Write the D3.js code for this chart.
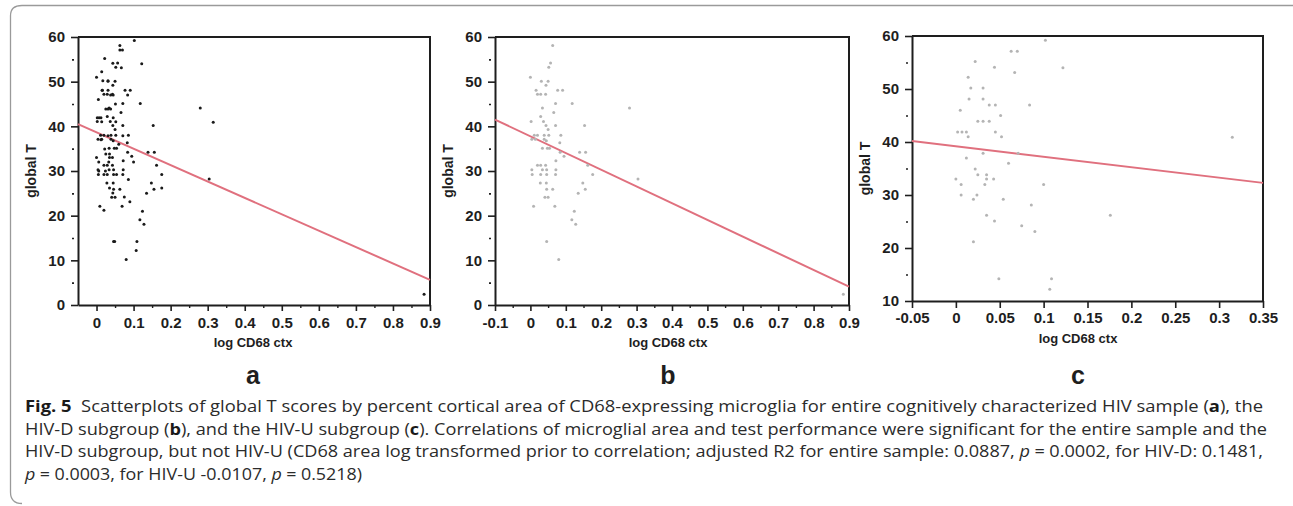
<!DOCTYPE html>
<html>
<head>
<meta charset="utf-8">
<script src="https://cdnjs.cloudflare.com/ajax/libs/d3/7.8.5/d3.min.js"></script>
<style>
  body { margin: 0; background: #fff; }
</style>
</head>
<body>
<div id="fig"></div>
<script>
var svgWidth = 1293;
var svgHeight = 506;

// HIV-D subgroup: [log CD68 ctx, global T]
var hivD = [
  [0.063,58.1],[0.057,54.2],[0.052,53.2],[0.000,51.0],[0.031,50.1],[0.050,50.1],
  [0.044,49.2],[0.016,48.1],[0.077,48.1],[0.091,48.1],[0.020,47.2],[0.029,47.2],
  [0.043,47.2],[0.071,45.1],[0.118,45.1],[0.034,44.1],[0.280,44.1],[0.066,43.1],
  [0.029,42.2],[0.002,41.1],[0.037,41.1],[0.044,40.2],[0.071,40.2],[0.153,40.2],
  [0.050,39.3],[0.011,38.0],[0.020,38.0],[0.039,38.0],[0.052,38.0],[0.086,38.0],
  [0.004,37.1],[0.014,37.1],[0.039,37.1],[0.045,36.8],[0.083,36.3],[0.034,35.1],
  [0.048,35.1],[0.054,35.1],[0.084,34.2],[0.139,34.2],[0.156,34.2],[0.095,33.3],
  [0.072,32.3],[0.020,31.3],[0.029,31.3],[0.043,31.3],[0.162,31.3],[0.004,30.3],
  [0.034,30.3],[0.046,30.3],[0.072,30.3],[0.005,29.2],[0.029,29.2],[0.046,29.2],
  [0.071,29.2],[0.176,29.2],[0.304,28.2],[0.028,27.3],[0.045,27.3],[0.148,27.3],
  [0.046,25.9],[0.063,25.9],[0.155,25.9],[0.135,25.0],[0.041,24.1],[0.050,24.1],
  [0.009,22.1],[0.069,22.1],[0.124,21.0],[0.117,19.1],[0.128,18.1],[0.046,14.2],
  [0.080,10.2],[0.884,2.4]
];

// HIV-U subgroup
var hivU = [
  [0.102,59.2],[0.063,57.1],[0.070,57.1],[0.022,55.2],[0.044,54.1],[0.122,54.0],
  [0.067,53.1],[0.014,52.2],[0.017,50.2],[0.031,50.2],[0.015,48.1],[0.031,48.1],
  [0.038,47.0],[0.045,47.0],[0.084,47.0],[0.005,46.0],[0.051,45.0],[0.025,43.9],
  [0.031,43.9],[0.038,43.9],[0.002,41.9],[0.007,41.9],[0.012,41.9],[0.045,41.9],
  [0.014,41.0],[0.052,41.0],[0.315,40.9],[0.031,37.9],[0.071,37.9],[0.012,37.0],
  [0.060,36.0],[0.022,34.9],[0.025,33.8],[0.035,33.8],[0.000,33.0],[0.035,33.0],
  [0.043,33.0],[0.006,32.0],[0.033,32.0],[0.100,32.0],[0.006,30.0],[0.024,30.0],
  [0.020,29.2],[0.054,29.2],[0.086,28.1],[0.035,26.2],[0.176,26.2],[0.044,25.1],
  [0.075,24.2],[0.090,23.1],[0.020,21.2],[0.049,14.2],[0.109,14.2],[0.107,12.2]
];

// entire sample = both subgroups
var hivAll = hivD.concat(hivU);

// fitted lines: [intercept, slope]
var fitAll = [38.66, -36.7];
var fitD = [37.76, -37.4];
var fitU = [39.2, -19.75];

// axes
var xDomainA = [-0.05, 0.9];
var xTicksA = [0, 0.1, 0.2, 0.3, 0.4, 0.5, 0.6, 0.7, 0.8, 0.9];
var xMinorA = [0.05, 0.15, 0.25, 0.35, 0.45, 0.55, 0.65, 0.75, 0.85];
var xDomainB = [-0.1, 0.9];
var xTicksB = [-0.1, 0, 0.1, 0.2, 0.3, 0.4, 0.5, 0.6, 0.7, 0.8, 0.9];
var xMinorB = [-0.05, 0.05, 0.15, 0.25, 0.35, 0.45, 0.55, 0.65, 0.75, 0.85];
var xDomainC = [-0.05, 0.35];
var xTicksC = [-0.05, 0, 0.05, 0.1, 0.15, 0.2, 0.25, 0.3, 0.35];
var yDomainAB = [0, 60];
var yTicksAB = [0, 10, 20, 30, 40, 50, 60];
var yMinorAB = [5, 15, 25, 35, 45, 55];
var yDomainC = [10, 60];
var yTicksC = [10, 20, 30, 40, 50, 60];
var yMinorC = [15, 25, 35, 45, 55];

var svg = d3.select("#fig")
  .append("svg")
  .attr("width", svgWidth)
  .attr("height", svgHeight);

// figure frame (rounded left corners)
svg.append("path")
  .attr("d", "M22,503.5 Q10.5,503.5 10.5,492 V16 Q10.5,5.5 22,5.5 H1293")
  .attr("fill", "none")
  .attr("stroke", "#9a9a9a")
  .attr("stroke-width", 1.3);

var axisFont = "'Liberation Sans', Arial, sans-serif";

function styleAxis(g) {
  g.select(".domain").attr("stroke", "#1e1e1e").attr("stroke-width", 2);
  g.selectAll(".tick line").attr("stroke", "#1e1e1e").attr("stroke-width", 1.6);
  g.selectAll(".tick text")
    .attr("fill", "#1e1e1e")
    .attr("font-family", axisFont)
    .attr("font-weight", "bold")
    .attr("font-size", "15px");
}

function drawPanel(p) {
  var x = d3.scaleLinear().domain(p.xDomain).range([p.left, p.right]);
  var y = d3.scaleLinear().domain(p.yDomain).range([p.bottom, p.top]);
  var fmt = function(d) { return String(d); };

  // top and right edges of the box
  svg.append("path")
    .attr("d", `M${p.left},${p.top}H${p.right}V${p.bottom}`)
    .attr("fill", "none")
    .attr("stroke", "#1e1e1e")
    .attr("stroke-width", 2);

  // minor x ticks
  if (p.xMinor) {
    var gxm = svg.append("g")
      .attr("transform", `translate(0, ${p.bottom})`)
      .call(d3.axisBottom(x).tickValues(p.xMinor).tickSize(3).tickSizeOuter(0).tickFormat(""));
    gxm.select(".domain").remove();
    gxm.selectAll(".tick line").attr("stroke", "#1e1e1e").attr("stroke-width", 1.4);
  }

  // minor y ticks (short dots left of the axis)
  var gym = svg.append("g")
    .attr("transform", `translate(${p.left}, 0)`)
    .call(d3.axisLeft(y).tickValues(p.yMinor).tickSize(6).tickSizeOuter(0).tickFormat(""));
  gym.select(".domain").remove();
  gym.selectAll(".tick line").attr("x1", -4).attr("stroke", "#1e1e1e").attr("stroke-width", 1.6);

  var gx = svg.append("g")
    .attr("transform", `translate(0, ${p.bottom})`)
    .call(d3.axisBottom(x).tickValues(p.xTicks).tickSize(p.xTickSize).tickPadding(p.xPad)
      .tickSizeOuter(0).tickFormat(fmt));
  styleAxis(gx);

  var gy = svg.append("g")
    .attr("transform", `translate(${p.left}, 0)`)
    .call(d3.axisLeft(y).tickValues(p.yTicks).tickSize(7).tickPadding(6)
      .tickSizeOuter(0).tickFormat(fmt));
  styleAxis(gy);

  // regression line
  var x0 = p.xDomain[0], x1 = p.xDomain[1];
  svg.append("line")
    .attr("x1", x(x0))
    .attr("y1", y(p.fit[0] + p.fit[1] * x0))
    .attr("x2", x(x1))
    .attr("y2", y(p.fit[0] + p.fit[1] * x1))
    .attr("stroke", "#e0707e")
    .attr("stroke-width", 2);

  // points
  svg.append("g")
    .selectAll("circle")
    .data(p.data)
    .enter()
    .append("circle")
    .attr("cx", d => x(d[0]))
    .attr("cy", d => y(d[1]))
    .attr("r", 1.5)
    .attr("fill", p.dotColor);

  // axis titles
  svg.append("text")
    .attr("transform", `translate(${p.left - 42}, ${(p.top + p.bottom) / 2}) rotate(-90)`)
    .attr("text-anchor", "middle")
    .attr("font-family", axisFont)
    .attr("font-weight", "bold")
    .attr("font-size", "14px")
    .attr("fill", "#1e1e1e")
    .text("global T");

  svg.append("text")
    .attr("x", p.labelX)
    .attr("y", p.bottom + 42)
    .attr("text-anchor", "middle")
    .attr("font-family", axisFont)
    .attr("font-weight", "bold")
    .attr("font-size", "13px")
    .attr("fill", "#1e1e1e")
    .text("log CD68 ctx");

  svg.append("text")
    .attr("x", p.labelX)
    .attr("y", 384)
    .attr("text-anchor", "middle")
    .attr("font-family", axisFont)
    .attr("font-weight", "bold")
    .attr("font-size", "25px")
    .attr("fill", "#1e1e1e")
    .text(p.letter);
}

drawPanel({
  data: hivAll, fit: fitAll, dotColor: "#1a1a1a", letter: "a",
  xDomain: xDomainA, xTicks: xTicksA, xMinor: xMinorA,
  yDomain: yDomainAB, yTicks: yTicksAB, yMinor: yMinorAB,
  left: 78, right: 430, top: 37, bottom: 305, xTickSize: 6, xPad: 6, labelX: 253
});

drawPanel({
  data: hivD, fit: fitD, dotColor: "#b4b4b4", letter: "b",
  xDomain: xDomainB, xTicks: xTicksB, xMinor: xMinorB,
  yDomain: yDomainAB, yTicks: yTicksAB, yMinor: yMinorAB,
  left: 495, right: 849, top: 37, bottom: 305, xTickSize: 6, xPad: 6, labelX: 668
});

drawPanel({
  data: hivU, fit: fitU, dotColor: "#b4b4b4", letter: "c",
  xDomain: xDomainC, xTicks: xTicksC, xMinor: null,
  yDomain: yDomainC, yTicks: yTicksC, yMinor: yMinorC,
  left: 912, right: 1263, top: 36, bottom: 301, xTickSize: 7, xPad: 4, labelX: 1078
});

// caption
var capFont = "'Open Sans', sans-serif";
var captionLines = [
  [["Fig. 5", "b"], ["  Scatterplots of global T scores by percent cortical area of CD68-expressing microglia for entire cognitively characterized HIV sample (", ""], ["a", "b"], ["), the", ""]],
  [["HIV-D subgroup (", ""], ["b", "b"], ["), and the HIV-U subgroup (", ""], ["c", "b"], ["). Correlations of microglial area and test performance were significant for the entire sample and the", ""]],
  [["HIV-D subgroup, but not HIV-U (CD68 area log transformed prior to correlation; adjusted R2 for entire sample: 0.0887, ", ""], ["p", "i"], ["\u2005=\u20050.0002, for HIV-D: 0.1481,", ""]],
  [["p", "i"], ["\u2005=\u20050.0003, for HIV-U -0.0107, ", ""], ["p", "i"], ["\u2005=\u20050.5218)", ""]]
];
var captionWidths = [1238, 1242, 1238, 337];

captionLines.forEach(function(line, i) {
  var t = svg.append("text")
    .attr("x", 25)
    .attr("y", 412 + i * 22.7)
    .attr("font-family", capFont)
    .attr("font-size", "16px")
    .attr("fill", "#2b2b2b")
    .attr("xml:space", "preserve")
    .style("white-space", "pre");
  line.forEach(function(seg) {
    var s = t.append("tspan").text(seg[0]);
    if (seg[1] === "b") s.attr("font-weight", "bold").attr("fill", "#1a1a1a");
    if (seg[1] === "i") s.attr("font-style", "italic");
  });
  t.attr("textLength", captionWidths[i]).attr("lengthAdjust", "spacingAndGlyphs");
});
</script>
</body>
</html>
